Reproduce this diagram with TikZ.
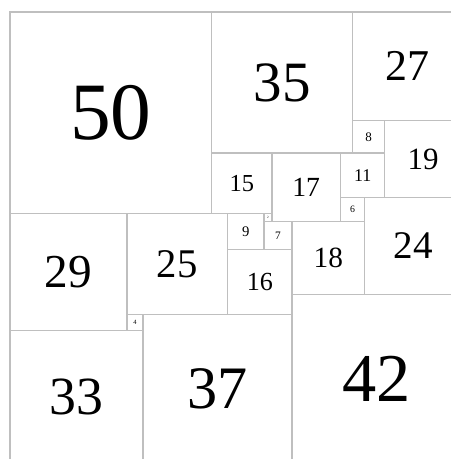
\documentclass[tikz,border=0pt]{standalone}
\usepackage{fontspec}
\setmainfont{Liberation Serif}
\begin{document}
\begin{tikzpicture}[x=1mm,y=-1mm,
  sq/.style={draw=gray!50,line width=0.9pt,inner sep=0pt,outer sep=0pt,anchor=north west,text=black}]
  \useasboundingbox (-2.48,-2.98) rectangle (109.2,110.9);
  % squares: left/top/side
  \foreach \x/\y/\s in {0/0/50, 50/0/35, 85/0/27, 85/27/8, 93/27/19,
      50/35/15, 65/35/17, 82/35/11, 82/46/6, 88/46/24,
      0/50/29, 29/50/25, 54/50/9, 63/50/2, 63/52/7, 54/59/16, 70/52/18,
      29/75/4, 0/79/33, 33/75/37, 70/70/42} {
    \pgfmathsetmacro\fs{1.15*\s}
    \node[sq,minimum size=\s mm,font=\fontsize{\fs pt}{\fs pt}\selectfont] (q\s) at (\x,\y) {\s};
  }
\end{tikzpicture}
\end{document}
